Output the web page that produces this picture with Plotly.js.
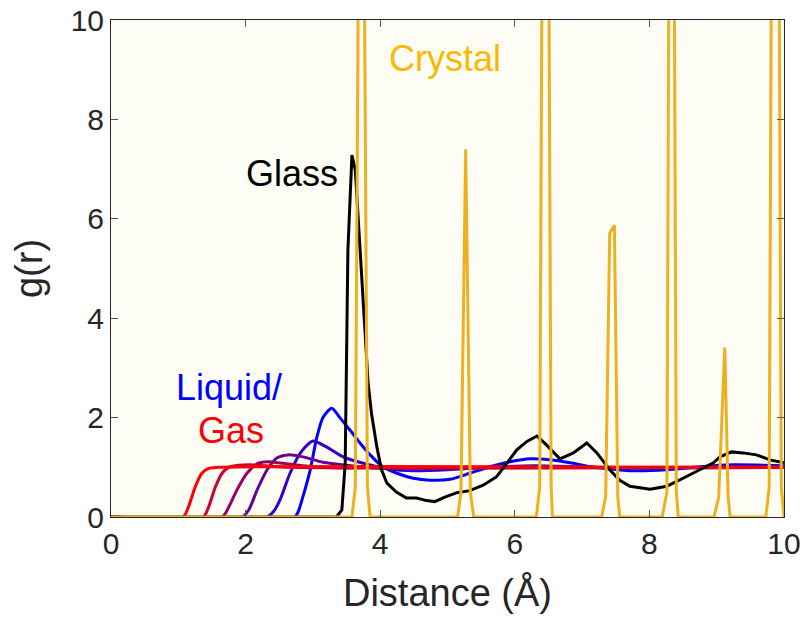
<!DOCTYPE html>
<html>
<head>
<meta charset="utf-8">
<script src="https://cdn.plot.ly/plotly-3.0.1.min.js"></script>
<style>
html,body{margin:0;padding:0;background:#fff;}
#chart{width:807px;height:626px;}
</style>
</head>
<body>
<div id="chart"></div>
<script>
// ---- Data ----
// Liquid/Gas series, from blue (densest) to red (gas)
const liqBlueX = [0, 2.73, 2.78, 2.85, 2.96, 3.06, 3.15, 3.28, 3.40, 3.55, 3.70, 3.85, 4.04, 4.25, 4.49, 4.74, 5.04, 5.33, 5.63, 5.93, 6.23, 6.52, 6.82, 7.12, 7.41, 7.76, 8.26, 8.75, 9.24, 10];
const liqBlueY = [0, 0, 0.10, 0.40, 0.95, 1.61, 2.00, 2.19, 2.00, 1.75, 1.49, 1.25, 1.01, 0.88, 0.78, 0.74, 0.76, 0.88, 1.01, 1.11, 1.17, 1.15, 1.09, 1.01, 0.97, 0.93, 0.95, 1.01, 1.05, 1.03];

const liqIndigoX = [0, 2.32, 2.42, 2.51, 2.66, 2.81, 3.00, 3.20, 3.45, 3.75, 4.15, 4.50, 5.00, 5.60, 6.30, 7.50, 10];
const liqIndigoY = [0, 0, 0.12, 0.34, 0.88, 1.28, 1.53, 1.41, 1.21, 1.08, 0.96, 0.93, 0.95, 1.00, 1.03, 0.99, 1.00];

const liqPurpleX = [0, 1.95, 2.05, 2.17, 2.32, 2.47, 2.63, 2.85, 3.15, 3.50, 4.00, 5.00, 10];
const liqPurpleY = [0, 0, 0.15, 0.54, 0.95, 1.19, 1.25, 1.21, 1.10, 1.04, 0.98, 0.99, 1.00];

const liqMagentaX = [0, 1.65, 1.75, 1.87, 2.02, 2.17, 2.32, 2.56, 2.85, 3.30, 4.00, 10];
const liqMagentaY = [0, 0, 0.20, 0.54, 0.88, 1.07, 1.11, 1.08, 1.03, 0.99, 0.99, 1.00];

const liqCrimsonX = [0, 1.37, 1.45, 1.55, 1.65, 1.75, 1.90, 2.05, 2.30, 2.70, 10];
const liqCrimsonY = [0, 0, 0.20, 0.60, 0.88, 1.00, 1.04, 1.05, 1.03, 1.00, 1.00];

const liqRedX = [0, 1.07, 1.15, 1.25, 1.35, 1.45, 1.60, 10];
const liqRedY = [0, 0, 0.20, 0.60, 0.88, 0.98, 1.00, 1.00];

// Glass
const glassX = [0, 3.35, 3.43, 3.48, 3.52, 3.58, 3.63, 3.70, 3.77, 3.82, 3.87, 3.95, 4.02, 4.10, 4.24, 4.39, 4.54, 4.69, 4.81, 4.96, 5.14, 5.33, 5.53, 5.73, 5.88, 6.03, 6.18, 6.33, 6.47, 6.67, 6.87, 7.07, 7.22, 7.41, 7.56, 7.71, 8.01, 8.26, 8.50, 8.75, 8.95, 9.05, 9.22, 9.39, 9.59, 9.79, 10];
const glassY = [0, 0, 0.14, 1.08, 5.37, 7.28, 6.98, 5.37, 3.70, 2.70, 2.09, 1.41, 0.95, 0.68, 0.50, 0.38, 0.38, 0.33, 0.31, 0.40, 0.49, 0.53, 0.64, 0.81, 1.08, 1.35, 1.52, 1.63, 1.45, 1.17, 1.29, 1.49, 1.29, 0.95, 0.74, 0.62, 0.56, 0.62, 0.78, 0.95, 1.09, 1.21, 1.31, 1.29, 1.25, 1.15, 1.09];

// Crystal
const crystalX = [0, 3.58, 3.63, 3.68, 3.76, 3.81, 3.85, 5.15, 5.20, 5.27, 5.34, 5.39, 6.32, 6.37, 6.42, 6.49, 6.54, 6.56, 7.29, 7.35, 7.41, 7.48, 7.53, 7.56, 8.19, 8.26, 8.33, 8.40, 8.43, 8.96, 9.03, 9.12, 9.17, 9.20, 9.73, 9.78, 9.84, 9.90, 9.96, 10];
const crystalY = [0, 0, 0.6, 12, 12, 0.6, 0, 0, 0.5, 7.4, 0.5, 0, 0, 0.6, 16, 16, 0.6, 0, 0, 0.4, 5.71, 5.87, 0.4, 0, 0, 0.5, 25, 0.5, 0, 0, 0.4, 3.41, 0.4, 0, 0, 0.6, 20, 20, 0.6, 0];

const tickVals = [0, 2, 4, 6, 8, 10];
const tickText = ['0', '2', '4', '6', '8', '10'];

// ---- Traces ----
const LW = 3;
function liq(x, y, color) {
  return {x: x, y: y, type: 'scatter', mode: 'lines', line: {color: color, width: LW, shape: 'spline', smoothing: 0.7}, hoverinfo: 'skip', showlegend: false};
}
const traces = [
  liq(liqBlueX, liqBlueY, 'rgb(0,0,255)'),
  liq(liqIndigoX, liqIndigoY, 'rgb(51,0,204)'),
  liq(liqPurpleX, liqPurpleY, 'rgb(102,0,153)'),
  liq(liqMagentaX, liqMagentaY, 'rgb(153,0,102)'),
  liq(liqCrimsonX, liqCrimsonY, 'rgb(204,0,51)'),
  liq(liqRedX, liqRedY, 'rgb(255,0,0)'),
  {x: glassX, y: glassY, type: 'scatter', mode: 'lines', line: {color: '#000000', width: LW}, showlegend: false},
  {x: crystalX, y: crystalY, type: 'scatter', mode: 'lines', line: {color: 'rgb(237,177,32)', width: LW}, showlegend: false}
];

const annFont = 'Liberation Sans, Arial, sans-serif';
const layout = {
  width: 807, height: 626,
  margin: {l: 111, r: 23, t: 20, b: 109},
  paper_bgcolor: '#ffffff',
  plot_bgcolor: 'rgb(253,253,246)',
  showlegend: false,
  font: {family: 'Liberation Sans, Arial, sans-serif', color: '#262626', size: 28},
  xaxis: {
    range: [0, 10], tickvals: tickVals, ticktext: tickText,
    ticks: 'inside', ticklen: 7, tickwidth: 1, tickcolor: '#555',
    showline: true, linecolor: '#262626', linewidth: 1, mirror: 'ticks',
    showgrid: false, zeroline: false,
    tickfont: {size: 30, color: '#262626'},
    title: {text: 'Distance (Å)', font: {size: 38, color: '#262626'}, standoff: 20}
  },
  yaxis: {
    range: [0, 10], tickvals: tickVals, ticktext: tickText,
    ticks: 'inside', ticklen: 7, tickwidth: 1, tickcolor: '#555',
    showline: true, linecolor: '#262626', linewidth: 1, mirror: 'ticks',
    showgrid: false, zeroline: false,
    tickfont: {size: 30, color: '#262626'},
    title: {text: 'g(r)', font: {size: 38, color: '#262626'}, standoff: 16}
  },
  annotations: [
    {x: 4.96, y: 9.22, text: 'Crystal', showarrow: false, xanchor: 'center', yanchor: 'middle', font: {family: annFont, size: 36, color: 'rgb(250,185,0)'}},
    {x: 2.69, y: 6.92, text: 'Glass', showarrow: false, xanchor: 'center', yanchor: 'middle', font: {family: annFont, size: 36, color: '#000000'}},
    {x: 1.75, y: 2.6, text: 'Liquid/', showarrow: false, xanchor: 'center', yanchor: 'middle', font: {family: annFont, size: 36, color: 'rgb(0,0,255)'}},
    {x: 1.78, y: 1.75, text: 'Gas', showarrow: false, xanchor: 'center', yanchor: 'middle', font: {family: annFont, size: 36, color: 'rgb(255,0,0)'}}
  ]
};

Plotly.newPlot('chart', traces, layout, {staticPlot: true, displayModeBar: false});
</script>
</body>
</html>
